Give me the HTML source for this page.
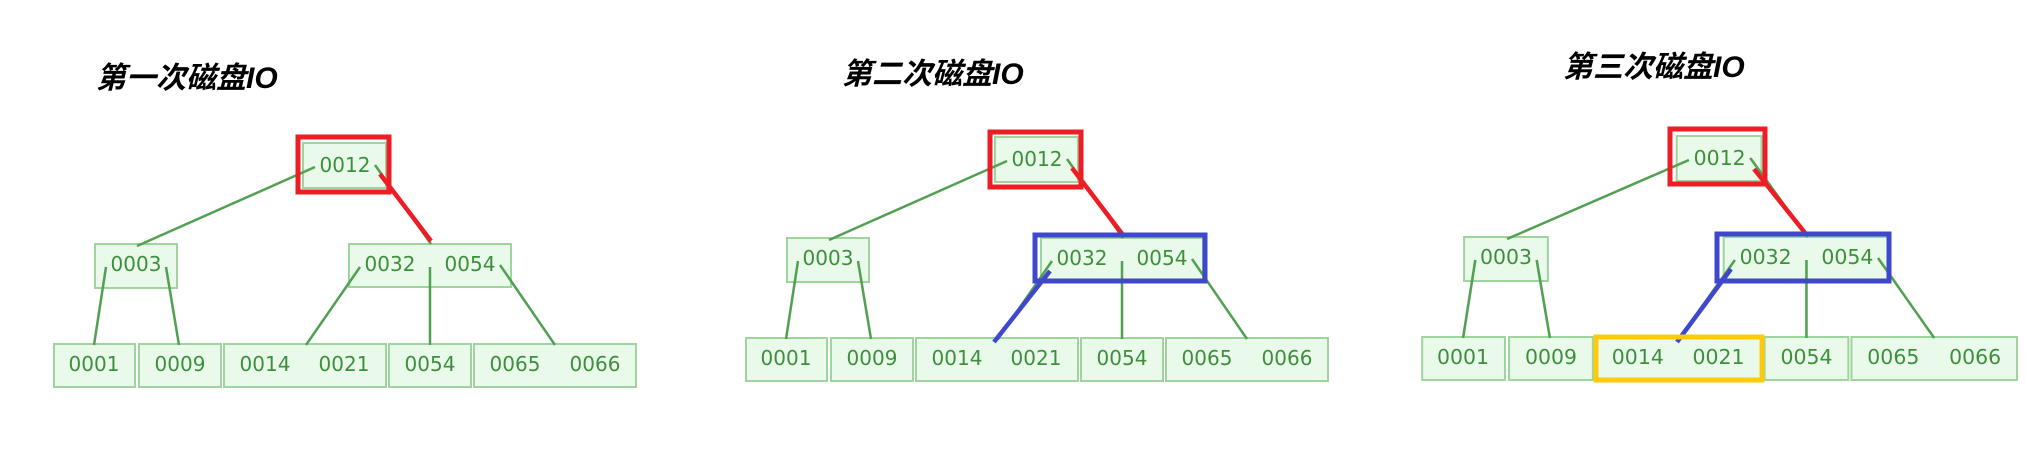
<!DOCTYPE html>
<html><head><meta charset="utf-8"><style>
html,body{margin:0;padding:0;background:#fff;}
svg{display:block;}
.t{font-family:"Liberation Sans","Noto Sans CJK SC",sans-serif;font-weight:bold;font-style:italic;font-size:30px;fill:#000;}
.n{font-family:"DejaVu Sans","Liberation Sans",sans-serif;font-size:20px;fill:#3d8f3d;text-anchor:middle;dominant-baseline:central;}
.b{fill:#eafaea;stroke:#9fd49f;stroke-width:2;}
.l{stroke:#52a052;stroke-width:2.5;fill:none;}
</style></head><body>
<svg width="2026" height="454" viewBox="0 0 2026 454" xmlns="http://www.w3.org/2000/svg">
<defs>
<g id="tree">
  <rect class="b" x="303" y="143" width="83" height="45"/>
  <rect class="b" x="95" y="244" width="82" height="44"/>
  <rect class="b" x="349" y="244" width="162" height="43"/>
  <rect class="b" x="54" y="344" width="81" height="43"/>
  <rect class="b" x="139" y="344" width="82" height="43"/>
  <rect class="b" x="224" y="344" width="162" height="43"/>
  <rect class="b" x="389" y="344" width="82" height="43"/>
  <rect class="b" x="474" y="344" width="162" height="43"/>
  <line class="l" x1="315" y1="167" x2="137" y2="246"/>
  <line class="l" x1="375" y1="165" x2="431" y2="244"/>
  <line class="l" x1="106" y1="267" x2="94" y2="345"/>
  <line class="l" x1="166" y1="267" x2="179" y2="345"/>
  <line class="l" x1="360" y1="267" x2="306" y2="345"/>
  <line class="l" x1="430" y1="267" x2="430" y2="345"/>
  <line class="l" x1="500" y1="265" x2="555" y2="345"/>
  <text class="n" x="345" y="165">0012</text>
  <text class="n" x="136" y="264">0003</text>
  <text class="n" x="390" y="264">0032</text>
  <text class="n" x="470" y="264">0054</text>
  <text class="n" x="94" y="364">0001</text>
  <text class="n" x="180" y="364">0009</text>
  <text class="n" x="265" y="364">0014</text>
  <text class="n" x="344" y="364">0021</text>
  <text class="n" x="430" y="364">0054</text>
  <text class="n" x="515" y="364">0065</text>
  <text class="n" x="595" y="364">0066</text>
</g>
</defs>

<!-- panel 1 -->
<text class="t" x="96" y="88">第一次磁盘IO</text>
<use href="#tree"/>
<rect x="298" y="137" width="91" height="55" fill="none" stroke="#ee1c24" stroke-width="5"/>
<line x1="380" y1="174" x2="431" y2="241" stroke="#ee1c24" stroke-width="4.5"/>

<!-- panel 2 -->
<text class="t" x="842" y="84">第二次磁盘IO</text>
<g transform="translate(692,-6)">
  <use href="#tree"/>
  <rect x="298" y="138" width="91" height="55" fill="none" stroke="#ee1c24" stroke-width="5"/>
  <line x1="380" y1="174" x2="431" y2="241" stroke="#ee1c24" stroke-width="4.5"/>
  <rect x="343" y="241" width="170" height="46" fill="none" stroke="#3f48cc" stroke-width="5"/>
  <line x1="358" y1="277" x2="302" y2="348" stroke="#3f48cc" stroke-width="4.5"/>
</g>

<!-- panel 3 -->
<text class="t" x="1563" y="77">第三次磁盘IO</text>
<g transform="translate(1367,-7) scale(1.022,1)">
  <use href="#tree"/>
</g>
<rect x="1670" y="129" width="95" height="55" fill="none" stroke="#ee1c24" stroke-width="5"/>
<line x1="1754" y1="169" x2="1806" y2="234" stroke="#ee1c24" stroke-width="4.5"/>
<rect x="1717" y="234" width="172" height="47" fill="none" stroke="#3f48cc" stroke-width="5"/>
<line x1="1731" y1="269" x2="1677" y2="342" stroke="#3f48cc" stroke-width="4.5"/>
<rect x="1596" y="337" width="166" height="43" fill="none" stroke="#ffc90e" stroke-width="5"/>
</svg>
</body></html>
